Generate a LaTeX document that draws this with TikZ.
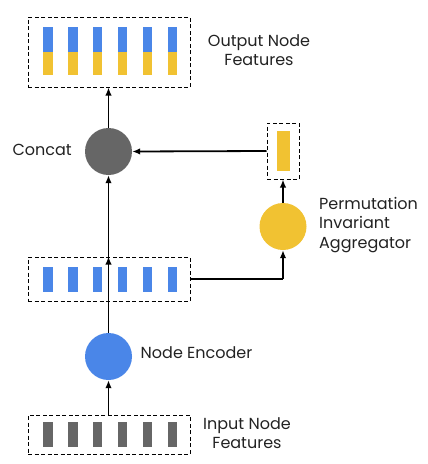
\documentclass[tikz,border=0pt]{standalone}
\usepackage{fontspec}
\setmainfont{Poppins}
\usetikzlibrary{arrows.meta}
\definecolor{gblue}{HTML}{4A86E8}
\definecolor{gyellow}{HTML}{F1C232}
\definecolor{ggray}{HTML}{666666}
\definecolor{txt}{HTML}{222222}
\begin{document}
\begin{tikzpicture}[x=1pt,y=-1pt,
  dbox/.style={draw=black,line width=1pt,dash pattern=on 4pt off 2.5pt,inner sep=0pt,minimum width=162pt},
  conn/.style={draw=black,line width=1.8pt,-{Latex[length=8pt,width=6.5pt]}},
  plain/.style={draw=black,line width=1.8pt},
  lbl/.style={font=\fontsize{16pt}{19.5pt}\selectfont,text=txt,inner sep=0pt},
  circ/.style={circle,minimum size=47pt,inner sep=0pt}]
\useasboundingbox (0,0) rectangle (428,464);
% boxes
\node[dbox,minimum height=70pt] (out) at (109,52) {};
\node[dbox,minimum height=44pt] (mid) at (109,279) {};
\node[dbox,minimum height=39pt] (inp) at (109,434.5) {};
\node[draw=black,line width=1pt,dash pattern=on 4pt off 2.5pt,minimum width=32pt,minimum height=56pt,inner sep=0pt] (agg) at (283,151) {};
% bars
\foreach \x in {48,73,97.5,122.5,147.5,172.5}{
  \fill[gblue] (\x-4.7,27) rectangle (\x+4.7,51.5);
  \fill[gyellow] (\x-4.7,51.5) rectangle (\x+4.7,75);
  \fill[gblue] (\x-4.7,267) rectangle (\x+4.7,292);
  \fill[ggray] (\x-4.7,422) rectangle (\x+4.7,447);
}
\fill[gyellow] (276.5,131) rectangle (289.5,171);
% circles
\node[circ,fill=ggray] (concat) at (108.5,151.5) {};
\node[circ,fill=gyellow] (pia) at (283,226.5) {};
\node[circ,fill=gblue] (enc) at (108.5,356.5) {};
% labels
\node[lbl,align=center] (outl) at (259,50) {Output Node\\Features};
\node[lbl,anchor=east] (concl) at (72,150) {Concat};
\node[lbl,align=left,anchor=west] (pial) at (319,225) {Permutation\\Invariant\\Aggregator};
\node[lbl,anchor=west] (encl) at (140.5,353) {Node Encoder};
\node[lbl,align=center] (inpl) at (247,433) {Input Node\\Features};
% connectors
\draw[conn] (inp.north -| enc) -- (enc.south);
\draw[conn] (enc.north) -- (mid.north -| enc) ;
\draw[conn] (mid.north -| concat) -- (concat.south);
\draw[conn] (concat.north) -- (out.south -| concat);
\draw[conn] (agg.west) -- (concat.east);
\draw[conn] (pia.north) -- (agg.south);
\coordinate (turn) at (pia |- mid.east);
\draw[plain] (mid.east) -- (turn);
\draw[conn] (turn) -- (pia.south);
\end{tikzpicture}
\end{document}
